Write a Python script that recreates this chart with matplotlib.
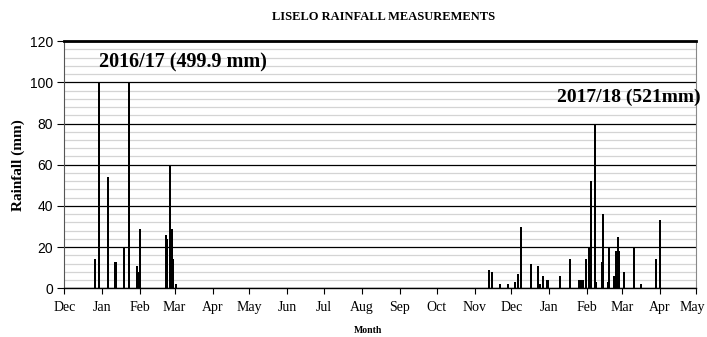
import matplotlib
matplotlib.use("Agg")
import matplotlib.pyplot as plt
import matplotlib.transforms as mtransforms
import numpy as np
import pandas as pd

# ---- data ----
season1_dates = ["2016-12-26", "2016-12-29", "2017-01-06", "2017-01-11", "2017-01-12",
                 "2017-01-19", "2017-01-23", "2017-01-29", "2017-01-30", "2017-02-01",
                 "2017-02-22", "2017-02-23", "2017-02-25", "2017-02-26", "2017-02-27",
                 "2017-02-28", "2017-03-02"]
season1_rain = [14, 100, 54, 13, 13, 20, 100, 11, 8, 29, 26, 24, 60, 8, 29, 14, 2]

season2_dates = ["2017-11-13", "2017-11-15", "2017-11-22", "2017-11-28", "2017-12-04",
                 "2017-12-06", "2017-12-09", "2017-12-17", "2017-12-23", "2017-12-24",
                 "2017-12-27", "2017-12-30", "2017-12-31", "2018-01-10", "2018-01-18",
                 "2018-01-25", "2018-01-26", "2018-01-27", "2018-01-28", "2018-01-31",
                 "2018-02-02", "2018-02-04", "2018-02-07", "2018-02-08", "2018-02-13",
                 "2018-02-14", "2018-02-18", "2018-02-19", "2018-02-23", "2018-02-24",
                 "2018-02-26", "2018-02-27", "2018-03-03", "2018-03-11", "2018-03-17",
                 "2018-03-29", "2018-04-01"]
season2_rain = [9, 8, 2, 2, 3, 7, 30, 12, 11, 2, 6, 4, 4, 6, 14, 4, 4, 4, 4, 14,
                20, 52, 80, 3, 13, 36, 3, 20, 6, 18, 25, 18, 8, 20, 2, 14, 33]

month_labels = ["Dec", "Jan", "Feb", "Mar", "Apr", "May", "Jun", "Jul", "Aug", "Sep",
                "Oct", "Nov", "Dec", "Jan", "Feb", "Mar", "Apr", "May"]
season1_label = "2016/17 (499.9 mm)"
season2_label = "2017/18 (521mm)"

# ---- plot ----
fig = plt.figure(figsize=(7.07, 3.37), dpi=100)
ax = fig.add_axes([0.091, 0.1445, 0.894, 0.7335])

d1 = pd.to_datetime(season1_dates)
d2 = pd.to_datetime(season2_dates)
ax.bar(d1, season1_rain, width=1.7, color="black", zorder=3)
ax.bar(d2, season2_rain, width=1.7, color="black", zorder=3)

xmin = pd.Timestamp("2016-12-01")
xmax = pd.Timestamp("2018-05-01")
ax.set_xlim(xmin, xmax)
ax.set_ylim(0, 120)

ticks = pd.date_range(xmin, xmax, freq="MS")
ax.set_xticks(ticks)
ax.set_xticklabels(month_labels, family="Liberation Serif", fontsize=10)
ax.set_yticks(np.arange(0, 121, 20))
ax.set_yticks(np.arange(0, 121, 4), minor=True)
ax.tick_params(axis="y", which="major", labelsize=10, length=5, width=0.8, pad=3)
ax.tick_params(axis="y", which="minor", length=0)
ax.tick_params(axis="x", which="major", length=4, width=0.8, pad=5)
for lab in ax.get_yticklabels():
    lab.set_family("Liberation Sans")

# keep the last month label inside the figure edge
last = ax.get_xticklabels()[-1]
last.set_transform(last.get_transform() +
                   mtransforms.ScaledTranslation(-4 / 100, 0, fig.dpi_scale_trans))

ax.grid(which="minor", axis="y", color="#d4d4d4", linewidth=0.9, zorder=0)
ax.grid(which="major", axis="y", color="black", linewidth=0.9, zorder=1)
ax.set_axisbelow(True)

ax.spines["top"].set_linewidth(2.0)
ax.spines["left"].set_linewidth(0.8)
ax.spines["left"].set_color("#555555")
ax.spines["right"].set_linewidth(0.8)
ax.spines["right"].set_color("#888888")
ax.spines["bottom"].set_linewidth(1.0)

ax.text(pd.Timestamp("2016-12-29"), 109.5, season1_label, family="Liberation Serif",
        fontweight="bold", fontsize=14.5, va="center", ha="left", zorder=5)
ax.text(pd.Timestamp("2018-01-07"), 92.5, season2_label, family="Liberation Serif",
        fontweight="bold", fontsize=14, va="center", ha="left", zorder=5)

fig.text(0.542, 0.95, "LISELO RAINFALL MEASUREMENTS", family="Liberation Serif",
         fontweight="bold", fontsize=9, ha="center", va="center")
fig.text(0.52, 0.018, "Month", family="Liberation Serif", fontweight="bold",
         fontsize=7, ha="center", va="center")
fig.text(0.026, 0.51, "Rainfall (mm)", family="Liberation Serif", fontweight="bold",
         fontsize=11, ha="center", va="center", rotation=90)

fig.savefig("out.png", dpi=100)
